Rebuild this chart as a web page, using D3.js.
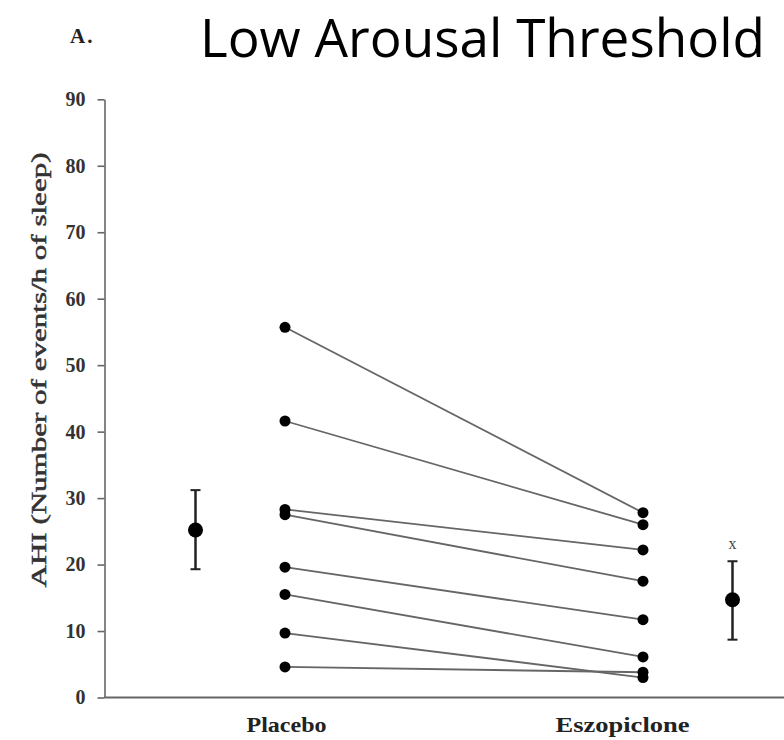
<!DOCTYPE html>
<html>
<head>
<meta charset="utf-8">
<script src="https://cdn.jsdelivr.net/npm/d3@7"></script>
<style>
  html, body { margin: 0; padding: 0; background: #fff; }
  svg { display: block; }
</style>
</head>
<body>
<svg id="chart" width="784" height="740"></svg>
<script>
// Conditions on the x axis
const conditions = ["Placebo", "Eszopiclone"];

// AHI per subject under each condition (paired)
const placeboAHI     = [55.7, 41.6, 28.3, 27.5, 19.6, 15.5, 9.7, 4.6];
const eszopicloneAHI = [27.8, 26.0, 22.2, 17.5, 11.7, 6.1, 3.0, 3.8];

// Group means with error bars
const groupMean  = [25.2, 14.7];
const groupLow   = [19.3, 8.7];
const groupHigh  = [31.2, 20.5];
const meanOffset = [-0.25, 1.25];   // side columns for the mean markers

// Y axis ticks
const yTicks = [0, 10, 20, 30, 40, 50, 60, 70, 80, 90];

const svg = d3.select("#chart");

const x = d3.scaleLinear().domain([0, 1]).range([285, 643]);
const y = d3.scaleLinear().domain([0, 90]).range([697.5, 99.3]);

const axisX0 = 104.5;
const serif = "'Liberation Serif', 'DejaVu Serif', serif";

// Panel letter and title
svg.append("text")
  .attr("x", 70).attr("y", 43)
  .attr("font-family", serif).attr("font-weight", "bold").attr("font-size", 21)
  .attr("letter-spacing", 2)
  .attr("fill", "#222")
  .text("A.");

svg.append("text")
  .attr("x", 200).attr("y", 57)
  .attr("font-family", "'Open Sans', 'Noto Sans', sans-serif")
  .attr("font-size", 53)
  .attr("textLength", 565).attr("lengthAdjust", "spacingAndGlyphs")
  .attr("fill", "#000")
  .text("Low Arousal Threshold");

// Y axis
const yAxis = svg.append("g")
  .attr("transform", `translate(${axisX0},0)`)
  .call(d3.axisLeft(y).tickValues(yTicks).tickSize(7).tickSizeOuter(0).tickPadding(12));
yAxis.select(".domain").attr("stroke", "#666").attr("stroke-width", 1.6);
yAxis.selectAll(".tick line").attr("stroke", "#666").attr("stroke-width", 1.6);
yAxis.selectAll(".tick text")
  .attr("font-family", serif).attr("font-weight", "bold").attr("font-size", 20)
  .attr("fill", "#333");

// X axis baseline and condition labels
svg.append("line")
  .attr("x1", axisX0).attr("x2", 784)
  .attr("y1", y(0)).attr("y2", y(0))
  .attr("stroke", "#666").attr("stroke-width", 2);

const labelLength = { "Placebo": 80, "Eszopiclone": 134 };
const labelShift  = { "Placebo": 1, "Eszopiclone": -21 };
const xAxis = svg.append("g")
  .attr("transform", `translate(0,${y(0)})`)
  .call(d3.axisBottom(x).tickValues([0, 1]).tickFormat(i => conditions[i]).tickSize(0).tickPadding(20));
xAxis.select(".domain").remove();
xAxis.selectAll(".tick text")
  .attr("font-family", serif).attr("font-weight", "bold").attr("font-size", 21)
  .attr("dx", d => labelShift[conditions[d]])
  .attr("textLength", d => labelLength[conditions[d]])
  .attr("lengthAdjust", "spacingAndGlyphs")
  .attr("fill", "#222");

// Y axis title
svg.append("text")
  .attr("transform", `translate(46,${(150 + 590) / 2}) rotate(-90)`)
  .attr("text-anchor", "middle")
  .attr("font-family", serif).attr("font-size", 21)
  .attr("stroke", "#333").attr("stroke-width", 0.5)
  .attr("textLength", 435).attr("lengthAdjust", "spacingAndGlyphs")
  .attr("fill", "#333")
  .text("AHI (Number of events/h of sleep)");

// Paired subject lines
const pairs = placeboAHI.map((p, i) => [p, eszopicloneAHI[i]]);
svg.append("g").selectAll("line")
  .data(pairs).join("line")
  .attr("x1", x(0)).attr("x2", x(1))
  .attr("y1", d => y(d[0])).attr("y2", d => y(d[1]))
  .attr("stroke", "#666").attr("stroke-width", 1.8);

// Subject points
[placeboAHI, eszopicloneAHI].forEach((vals, c) => {
  svg.append("g").selectAll("circle")
    .data(vals).join("circle")
    .attr("cx", x(c)).attr("cy", d => y(d))
    .attr("r", 5.5).attr("fill", "#000");
});

// Mean ± error bars
groupMean.forEach((m, c) => {
  const cx = x(meanOffset[c]);
  const g = svg.append("g");
  g.append("line")
    .attr("x1", cx).attr("x2", cx)
    .attr("y1", y(groupLow[c])).attr("y2", y(groupHigh[c]))
    .attr("stroke", "#222").attr("stroke-width", 2.5);
  [groupLow[c], groupHigh[c]].forEach(v => {
    g.append("line")
      .attr("x1", cx - 5).attr("x2", cx + 5)
      .attr("y1", y(v)).attr("y2", y(v))
      .attr("stroke", "#222").attr("stroke-width", 2);
  });
  g.append("circle")
    .attr("cx", cx).attr("cy", y(m)).attr("r", 7.5).attr("fill", "#000");
});

// Significance marker above the eszopiclone mean
svg.append("text")
  .attr("x", x(meanOffset[1])).attr("y", y(groupHigh[1]) - 12)
  .attr("text-anchor", "middle")
  .attr("font-family", serif).attr("font-size", 16)
  .attr("fill", "#444")
  .text("x");
</script>
</body>
</html>
